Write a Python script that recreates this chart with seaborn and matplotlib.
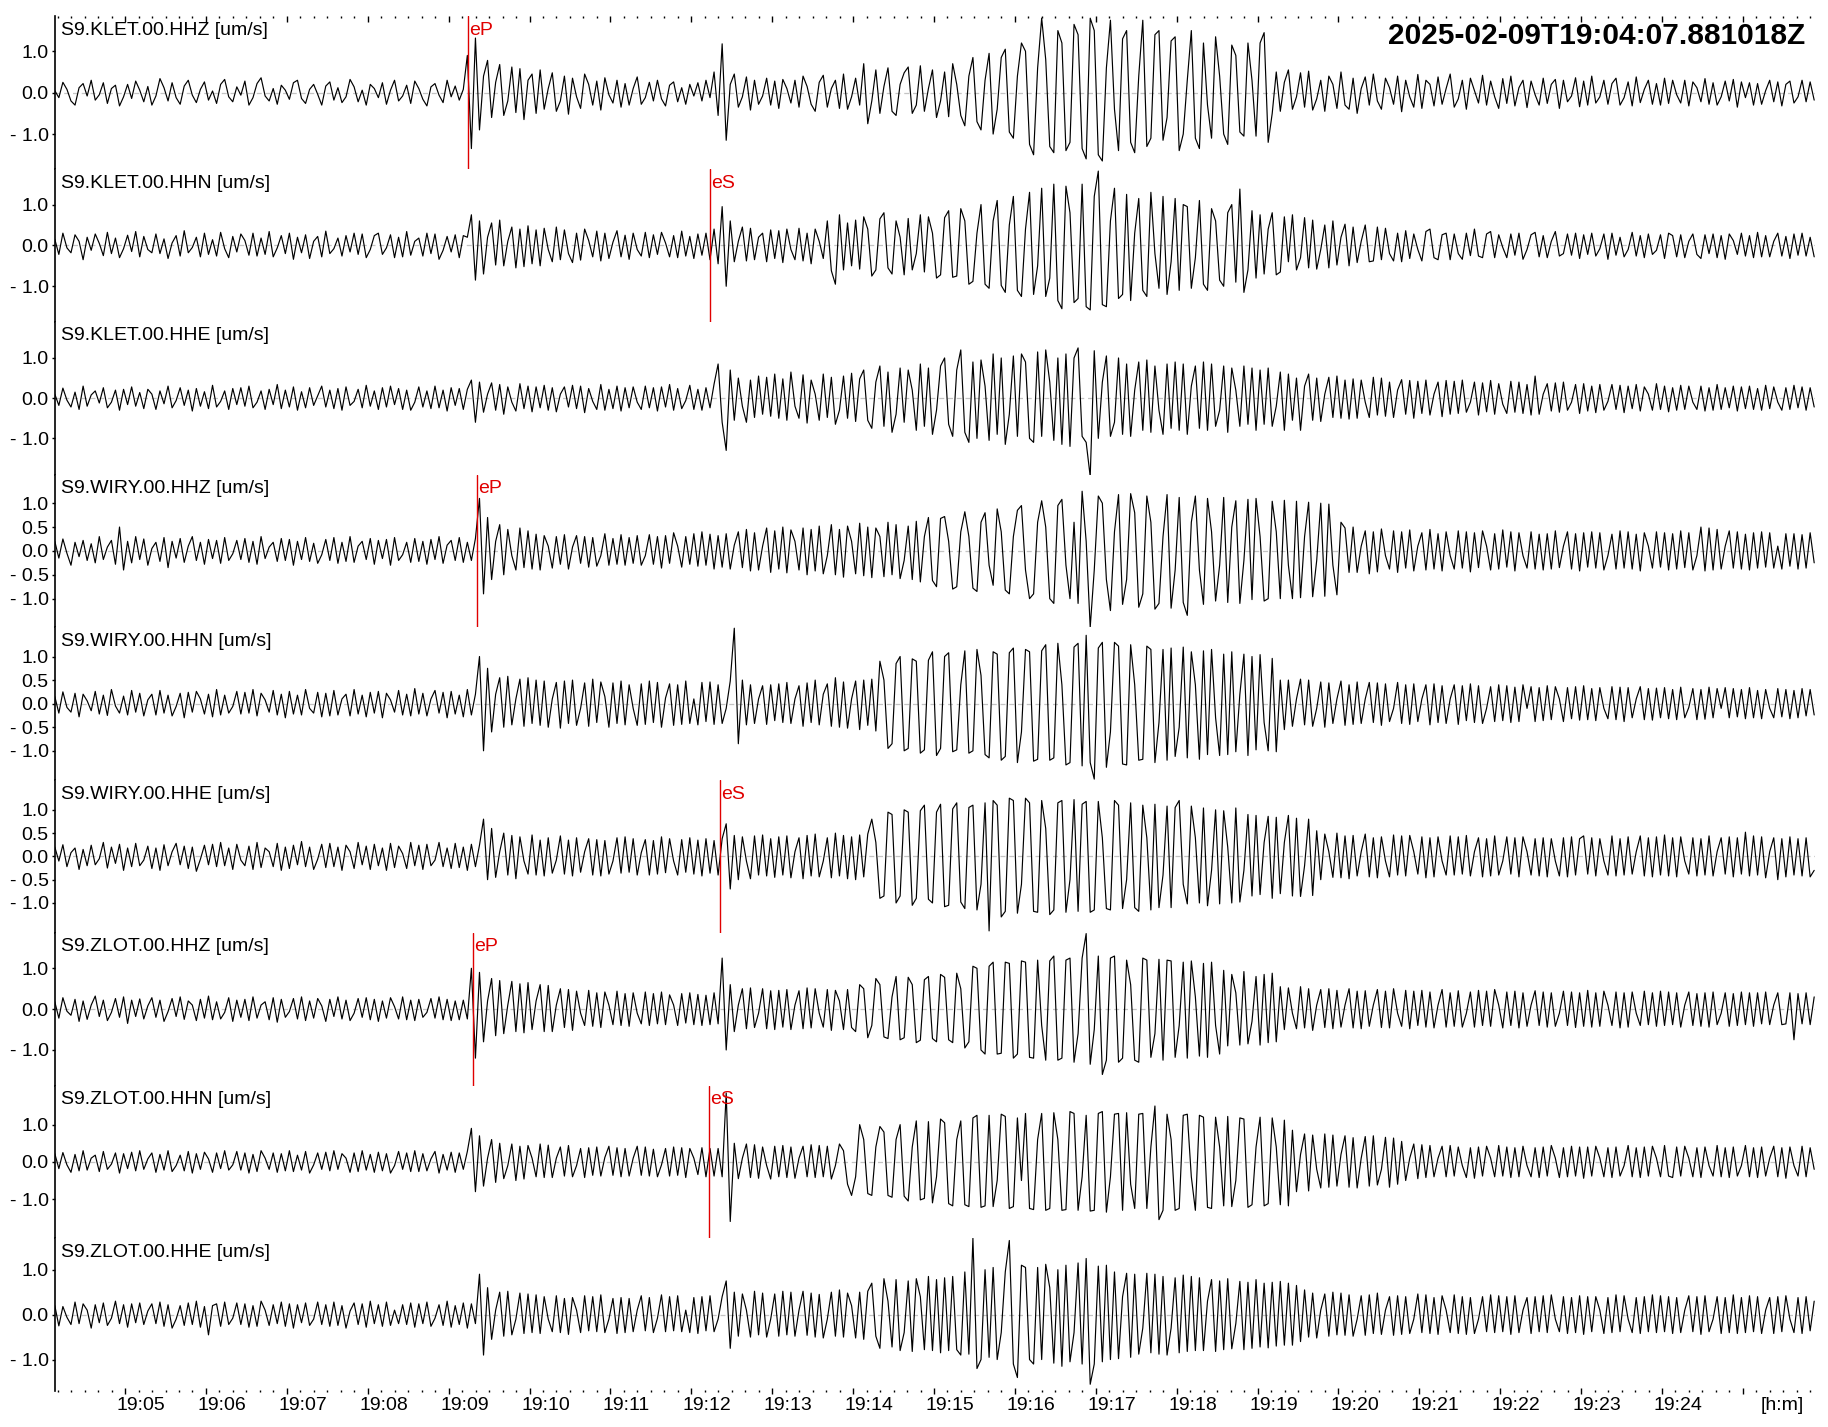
import numpy as np
import pandas as pd
import matplotlib
matplotlib.use("Agg")
import matplotlib.pyplot as plt
import matplotlib.transforms as mtransforms
from matplotlib.ticker import FixedLocator, NullLocator
import seaborn as sns

# ---------------- data ----------------
DT = 3.0            # seconds between samples
T_END = 1305.6      # seconds shown (start 19:04:07.881018)
FIRST_MINUTE = 52.12  # seconds from start to 19:05:00

TITLE = "2025-02-09T19:04:07.881018Z"
CHANNELS = ["S9.KLET.00.HHZ", "S9.KLET.00.HHN", "S9.KLET.00.HHE",
            "S9.WIRY.00.HHZ", "S9.WIRY.00.HHN", "S9.WIRY.00.HHE",
            "S9.ZLOT.00.HHZ", "S9.ZLOT.00.HHN", "S9.ZLOT.00.HHE"]
UNIT = "[um/s]"
Y_HALF = [1.845, 1.87, 1.90, 1.60, 1.62, 1.64, 1.87, 2.05, 1.70]
YT3 = [1.0, 0.0, -1.0]
YT5 = [1.0, 0.5, 0.0, -0.5, -1.0]
YL3 = ["1.0", "0.0", "- 1.0"]
YL5 = ["1.0", "0.5", "0.0", "- 0.5", "- 1.0"]
Y_TICKS = [YT3, YT3, YT3, YT5, YT5, YT5, YT3, YT3, YT3]
Y_TICKLABELS = [YL3, YL3, YL3, YL5, YL5, YL5, YL3, YL3, YL3]

PICK_CHANNEL = [0, 1, 3, 5, 6, 7]
PICK_PHASE = ["eP", "eS", "eP", "eS", "eP", "eS"]
PICK_TIME = [306.7, 485.9, 313.1, 493.4, 310.1, 485.4]

MINUTE_LABELS = ["19:05", "19:06", "19:07", "19:08", "19:09", "19:10", "19:11",
                 "19:12", "19:13", "19:14", "19:15", "19:16", "19:17", "19:18",
                 "19:19", "19:20", "19:21", "19:22", "19:23", "19:24", "[h:m]"]

# amplitudes in 0.01 um/s, one value every DT seconds (one row = one minute)
KLET_HHZ = [
    5,-12,25,8,-20,-30,12,22,-8,30,-18,-5,24,-26,10,18,-32,-10,20,-14,
    28,6,-22,15,-30,-8,34,12,-20,24,-12,-28,16,30,-6,-24,8,26,-18,4,
    -26,20,32,-10,-22,14,-6,28,-30,-12,22,36,-8,-20,10,-28,18,6,-16,24,
    30,-14,-26,8,20,-4,-30,16,26,-18,12,-24,-10,32,14,-22,6,-30,20,10,
    -12,24,-28,6,30,-20,-8,18,-26,28,10,-16,-32,14,22,-6,-24,30,-10,16,
    -18,8,90,-135,132,-90,40,78,-60,25,68,-55,-20,62,-48,58,-65,30,45,-50,
    55,-40,10,48,-45,-20,40,-52,35,-10,-38,45,20,-30,28,-42,36,-5,-25,30,
    -35,22,-30,10,38,-28,-12,25,-20,30,-15,-32,18,26,-22,12,-28,20,-8,24,
    -20,30,-12,50,-55,118,-115,20,45,-35,-10,38,-42,30,-28,-8,35,-30,28,-38,
    32,10,-25,30,-35,40,15,-28,-45,25,42,-35,10,30,-38,45,-40,-10,35,-30,
    70,-75,-20,55,-50,15,60,-45,-55,20,48,62,-50,-30,65,-45,10,55,-60,-20,
    50,-58,70,20,-55,-80,40,85,-70,-90,30,95,-100,-40,85,105,-95,-110,40,120,
    100,-125,-150,60,180,80,-130,-145,150,120,-140,-120,165,140,-135,-160,180,150,-150,-165,
    60,175,-40,-140,130,150,-120,-145,40,175,-130,-110,140,150,-115,-60,125,135,-140,-100,
    30,150,-110,-135,120,-30,-110,135,40,-100,-125,115,90,-95,-105,120,30,-105,120,145,
    -120,-50,50,-45,25,55,-40,-10,48,-35,52,-42,-15,30,-45,40,20,-38,50,-30,
    -40,35,-50,10,38,-30,45,-20,-40,35,12,-28,40,-46,30,-10,-35,44,-38,30,
    20,-32,38,-28,10,45,-35,-15,30,-40,35,5,-25,42,-30,28,-10,-38,34,-26,
    40,-32,12,30,-36,28,-5,-30,35,-26,20,32,-38,30,-22,-8,36,-34,28,-30,
    40,-25,-10,30,-28,22,35,-30,-12,26,-32,38,-24,8,30,-28,22,-30,35,-26,
    30,-5,-25,30,-32,26,12,-22,34,-28,24,-30,-10,28,-20,32,-35,26,-12,24,
    -30,22,-28,5,30,-22,26,-32,20,28,-25,-10,30,-22,26,-18,
]
KLET_HHN = [
    15,-22,30,-6,-18,26,10,-35,20,-12,28,5,-25,32,-20,18,-30,-8,25,-15,
    34,-28,22,-10,-18,28,-20,16,-32,6,24,-26,36,-18,-5,20,-28,30,-22,14,
    -26,32,-8,-30,22,-16,28,12,-24,30,-26,18,-22,34,-28,-6,24,-20,30,-34,
    20,-18,26,-32,10,22,-28,35,-20,-8,18,-26,24,-16,30,-22,28,-30,-10,24,
    30,-22,-6,26,-30,20,-28,34,-24,10,18,-26,30,-20,28,-34,-12,22,-16,26,
    -30,24,20,75,-85,60,-70,20,55,-48,62,-50,10,45,-55,40,-52,48,-45,38,
    -50,42,-10,-40,45,-35,38,-20,-42,30,-36,40,12,-28,35,-38,30,-32,8,36,
    -28,25,-34,30,-10,-26,32,-30,26,-22,32,6,-28,24,-30,35,-26,22,-32,28,
    -24,30,-35,40,-45,95,-100,60,-40,10,45,-38,42,-35,20,30,-40,38,-32,36,
    -42,40,-10,-35,42,-38,30,-45,40,10,-32,60,-62,-95,75,-60,55,-50,62,-58,
    70,40,-75,-60,65,80,-55,-70,60,20,-72,66,-60,-20,75,-65,70,30,-80,-72,
    68,85,-78,-75,90,60,-95,-88,30,100,-95,-105,60,110,-98,-115,50,120,-110,-125,
    40,130,-120,-50,140,-125,-80,150,-135,-155,145,80,-140,-130,150,-150,-158,120,182,-145,
    -150,60,140,-130,-120,125,-135,30,115,-110,-125,130,-20,-105,120,-120,-40,115,-110,100,
    95,-105,-30,110,-95,-110,90,60,-85,-100,80,100,-90,138,-115,-60,85,-80,75,-70,
    40,80,-72,-65,70,-40,75,-60,-30,68,-55,62,-58,-10,50,-55,60,-48,20,52,
    -50,45,-42,10,50,-40,-38,45,-35,42,-20,-38,30,-40,36,-32,28,-10,-38,34,
    40,-30,-35,26,30,-35,28,-20,-34,30,-25,40,-26,-30,28,34,-30,26,-5,-30,
    28,-24,30,-34,-10,26,32,-28,24,-30,10,34,-26,-20,28,-24,30,-32,26,-22,
    30,-26,-8,28,-34,30,-24,20,-28,-10,32,-26,24,-30,28,-22,-12,26,-32,30,
    24,-28,26,-30,10,28,-22,-32,26,-20,28,-30,24,-34,28,12,-22,30,-26,24,
    -30,32,-28,24,-28,10,30,-26,22,-32,28,-24,30,-26,20,-28,
]
KLET_HHE = [
    10,-18,25,-5,-22,15,-28,30,-20,8,18,-12,26,-24,-10,20,-30,22,-16,28,
    -20,14,-26,22,10,-28,18,-14,30,-24,-6,26,-18,20,-32,24,-20,16,-26,32,
    -22,-8,18,-28,24,-16,26,-20,30,-24,-10,18,-28,22,-16,34,-26,20,-22,28,
    -30,16,-24,26,-18,6,30,-22,20,-26,24,-30,28,-18,-8,22,-24,32,-20,18,
    -28,26,-22,30,-16,24,-28,20,-30,-10,28,-22,18,-26,30,-24,20,-32,26,-18,
    24,-28,22,45,-60,40,-35,10,38,-30,34,-40,28,-10,-32,36,-26,30,-34,28,
    -24,32,-30,26,-34,10,28,-22,32,-26,30,-36,24,-8,-28,34,-30,22,-26,30,
    -32,26,-24,28,-10,-28,30,-24,26,-32,28,-22,34,-30,24,-26,-6,32,-28,22,
    -30,26,-24,35,85,-60,-130,70,-55,50,-20,-60,45,-48,55,-40,52,-45,60,-50,
    48,-55,65,-20,-50,58,-62,45,10,-55,60,-48,52,-65,-30,55,-50,62,-58,48,
    70,-55,-75,40,80,-70,65,-85,-40,75,-60,70,20,-80,85,-70,75,-90,-30,80,
    100,-65,-95,70,120,-85,-110,90,-100,95,30,-105,110,-90,100,-115,-40,105,-95,110,
    90,-100,-110,115,-95,120,40,-105,100,-115,110,-120,100,125,-95,-110,-195,118,-100,40,
    105,-95,-60,100,-90,85,-95,20,90,-80,95,-85,80,-30,-90,85,-75,90,-80,85,
    -90,30,80,-75,90,-80,85,-70,-30,80,-85,75,20,-70,80,-65,75,-80,70,-65,
    75,-70,-20,65,-80,60,-55,50,-80,30,60,-55,50,-58,10,52,-48,55,-50,45,
    -52,48,-50,45,-10,-48,52,-42,50,-45,40,-48,20,46,-40,44,-50,42,-38,45,
    -42,10,40,-46,44,-40,42,-38,45,-35,-10,40,-42,38,-34,44,-40,36,-15,-38,
    42,-35,40,-38,34,-42,55,-40,10,36,-32,38,-35,40,-30,-10,34,-38,36,-32,
    30,-36,34,-30,-8,34,-28,32,-36,30,-26,34,-32,28,10,-30,36,-28,30,-34,
    26,-30,32,-28,30,-10,-28,30,-32,26,-30,34,-28,26,-24,30,-32,28,-26,30,
    -28,24,-30,32,-26,28,-10,-30,26,-28,32,-24,28,-30,26,-22,
]
WIRY_HHZ = [
    20,-15,25,-5,-30,18,-12,22,-20,15,-25,30,-18,8,22,-28,50,-40,20,-25,
    30,-18,25,-30,5,18,-22,28,-35,20,-15,26,-24,10,30,-20,18,-28,24,-16,
    22,-26,28,-20,-6,22,-18,26,-24,20,-28,30,-16,8,18,-22,26,-20,24,-30,
    20,-18,28,-22,16,-26,-8,24,-20,28,-26,18,-22,30,-24,10,20,-18,26,-28,
    22,-16,24,-30,28,-20,-8,18,-24,26,-22,20,-28,24,-18,30,-26,12,22,-20,
    28,-24,18,-20,26,110,-90,70,-60,20,55,-50,45,-10,-40,48,-35,42,-38,35,
    -40,32,10,-36,30,-28,34,-38,8,32,-26,30,-34,28,-32,-10,36,-30,26,-28,
    34,-30,28,-26,32,-30,-10,34,-28,30,-36,32,-26,38,10,-34,30,-28,36,-32,
    40,-30,35,-38,32,-34,36,-38,12,40,-35,45,-42,38,-40,10,48,-45,42,-38,
    50,-46,44,20,-40,48,-50,45,-42,52,-48,-10,55,-50,45,-55,52,20,-48,58,
    -52,50,-56,48,30,-54,60,-50,55,-58,-20,52,-60,62,-65,30,70,-62,-75,68,
    72,20,-80,-75,40,82,30,-78,-85,60,80,-30,-72,88,40,-82,-90,30,85,95,
    -40,-100,-90,60,105,50,-100,-110,95,108,-30,-100,60,-110,125,20,-160,-40,115,100,
    -60,-125,40,118,-112,-60,120,80,-118,-90,115,60,-122,-110,30,118,-120,-40,112,-108,
    -135,60,115,-40,-112,110,40,-105,-30,112,-108,50,105,-110,-20,108,-102,110,30,-105,
    -100,104,40,-100,106,-30,-100,104,-98,30,102,-96,-20,100,-95,98,-30,-92,60,48,
    -45,50,-45,10,42,-48,40,-44,46,-10,-38,42,-45,40,-36,44,-42,10,38,-40,
    45,-38,36,-42,40,-10,-38,42,-36,40,-44,38,-35,42,10,-40,36,-38,44,-34,
    40,-42,38,-10,-36,40,-38,35,-40,36,-38,42,-35,10,40,-38,36,-42,38,-34,
    40,-36,38,-40,-10,35,-38,42,-36,40,-38,35,-42,38,10,-36,40,-34,38,-40,
    36,-38,42,-35,38,-40,-10,50,-42,48,-40,45,-38,10,42,-36,40,-38,35,-40,
    38,-36,40,-34,38,-36,10,-38,36,-32,36,-38,34,-36,38,-25,
]
WIRY_HHN = [
    15,-20,25,-8,-18,22,-28,20,6,-15,26,-22,18,-25,30,-5,-20,16,-24,28,
    -18,22,-26,8,20,-24,28,-20,18,-26,-6,22,-30,24,-18,26,10,-22,20,-28,
    30,-24,18,-20,-6,26,-22,24,-20,30,-26,22,8,-18,28,-24,20,-30,26,-22,
    18,-24,30,-10,-20,24,-28,22,-26,28,-24,10,20,-26,30,-22,18,-28,24,-20,
    26,-30,22,8,-18,28,-24,20,-26,32,-22,22,-26,10,28,-20,24,-30,26,-22,
    18,-28,30,-24,20,100,-100,75,-60,20,55,-50,58,-45,10,52,-48,55,-42,50,
    -46,48,-50,10,45,-52,48,-42,50,-46,-10,44,-48,52,-40,46,15,-50,44,-42,
    48,-45,40,-10,-46,42,-44,48,-40,45,-50,12,42,-46,40,-44,48,-42,10,-45,
    45,-38,46,-44,40,-42,-10,48,160,-85,50,-45,40,-42,10,38,-44,40,-36,42,
    -40,45,-42,10,38,-48,44,-40,50,-45,20,42,-48,55,-50,46,-52,10,48,-55,
    50,-46,52,-58,90,50,-95,-85,85,100,-100,-95,95,90,-105,-98,92,110,-110,-95,
    100,108,-102,-98,40,112,-105,-100,115,60,-108,-115,110,105,-120,-112,108,118,-125,-60,
    115,110,-122,-118,112,125,-120,-115,128,40,-130,-125,120,128,-132,145,-125,-160,118,130,
    -135,-60,130,122,-128,-130,125,40,-120,-118,122,115,-125,-40,115,-120,118,-112,-50,120,
    -115,110,40,-118,112,-108,115,-30,-110,105,-108,110,-102,20,105,-110,100,-98,104,-40,
    -100,96,-102,50,-55,50,-48,10,52,-45,50,-48,-10,46,-50,44,-42,10,48,-46,
    40,-44,46,-42,10,45,-40,44,-46,42,-38,-10,45,-42,40,-44,42,-38,10,40,
    -45,42,-40,38,-42,10,40,-44,38,-36,42,-40,38,-42,-10,36,-38,40,-36,38,
    -40,35,-38,40,-10,36,-38,34,-36,38,-34,36,10,-38,34,-32,36,-35,38,-34,
    32,-36,34,-10,-32,36,-34,35,-38,34,-30,10,36,-34,32,-35,33,-30,34,-32,
    30,-34,35,-30,-8,32,-34,30,-33,35,-30,32,-10,34,-30,32,-28,30,-32,34,
    -30,28,-32,30,-10,-30,32,-28,30,-32,28,-30,32,-26,30,-24,
]
WIRY_HHE = [
    20,-10,25,-22,8,18,-28,15,-20,24,-18,-5,30,-25,20,-15,26,-30,18,-22,
    28,-20,-8,22,-26,18,-30,25,-20,10,28,-18,22,-26,20,-32,-6,24,-18,26,
    -22,30,-20,18,-28,26,-8,-20,22,-28,30,-24,18,10,-22,28,-30,20,-26,24,
    -18,32,-22,20,-28,-6,26,-24,28,-22,20,-30,24,10,-26,30,-18,22,-28,26,
    -20,18,-30,28,-24,22,6,-26,30,-20,24,-28,26,-20,-8,30,-22,18,-26,28,
    -24,20,-30,26,-22,24,80,-50,60,-45,10,50,-40,45,-48,42,-10,-38,46,-40,
    35,-42,40,-36,-8,44,-38,35,-42,40,-34,10,38,-40,36,-42,34,-38,-10,40,
    -36,42,-34,38,-40,8,36,-40,34,-38,42,-35,38,-10,-40,36,-34,40,-38,35,
    -42,38,-36,34,-40,38,70,-70,45,-50,42,-10,-48,44,-40,46,-42,38,-45,42,
    -40,44,-46,10,40,-48,45,-42,48,-44,-10,40,-46,50,-42,45,-48,42,-50,46,
    -44,48,80,30,-90,-85,95,90,-100,-85,100,95,-105,-90,98,110,-92,-100,95,112,
    -108,-105,102,115,-98,-112,105,110,-115,-60,115,-160,120,110,-130,-118,125,120,-122,-60,
    125,115,-118,-120,120,60,-125,-115,115,120,-120,-50,122,-118,112,118,-120,-115,118,40,
    -112,-115,120,110,-112,-50,115,-110,-118,110,40,-115,112,-110,-40,108,-110,105,120,-60,
    -102,108,40,-100,104,-106,-30,100,-102,98,20,-100,104,-98,-30,90,-85,88,-82,30,
    86,-90,84,-80,30,88,-85,82,-86,-20,80,-84,55,-50,48,10,-45,50,-46,44,
    -48,45,-42,10,48,-44,40,-46,42,-10,-44,46,-40,44,-42,45,10,-38,42,-46,
    40,-44,42,-10,-40,44,-40,42,-38,45,-42,10,40,-44,38,-42,44,-40,-10,42,
    -38,40,-44,42,10,-40,38,-42,40,-44,38,-10,-42,40,-44,42,-40,38,44,-38,
    40,-42,38,-10,-40,44,-42,38,-40,42,-38,10,44,-42,40,-44,42,-40,46,-42,
    40,-44,42,-10,-38,40,-42,38,-40,44,-42,10,40,-38,42,-44,40,-38,52,-42,
    44,-40,42,-46,10,40,-50,38,-44,42,-40,38,-42,40,-44,-30,
]
ZLOT_HHZ = [
    18,-22,28,-5,-15,24,-30,20,-25,10,32,-18,22,-28,-8,26,-20,30,-35,22,
    -18,25,-24,8,28,-20,22,-30,-6,26,-18,30,-25,20,10,-28,24,-22,32,-26,
    18,-24,-8,28,-30,22,-20,24,-28,30,-22,10,18,-26,28,-32,24,-20,-6,26,
    -24,30,-28,20,-22,26,8,-30,24,-18,30,-24,22,-28,-10,26,-20,28,-26,24,
    -30,20,-22,28,6,-24,30,-26,22,-28,24,-20,-8,26,-22,30,-26,24,-28,20,
    -26,22,-24,100,-120,90,-80,20,75,-65,70,-60,10,68,-55,62,-58,65,-50,20,
    60,-55,58,-55,10,50,-45,48,-52,44,-10,-40,46,-42,40,-45,42,10,-38,44,
    -40,38,-42,40,-10,-36,42,-40,38,-36,42,-38,35,10,-40,38,-34,40,-38,36,
    -40,34,-38,40,-36,125,-100,60,-55,10,50,-48,52,-45,-10,50,-48,45,-50,46,
    -44,48,-50,10,45,-48,52,-46,50,-10,-44,48,-52,46,20,-50,48,-45,-55,60,
    50,-70,-40,75,60,-68,-72,30,80,-75,-70,78,60,-82,-76,72,80,-72,-80,85,
    78,-75,-82,88,50,-95,-80,105,100,-100,-110,105,115,-110,-108,115,112,-120,-110,118,
    115,-118,-120,120,-40,-125,118,130,-125,-120,120,125,-130,-60,125,185,-135,-50,130,-160,
    -125,125,130,-130,-120,120,60,-125,-130,125,120,-118,-60,122,-125,120,118,-118,-40,115,
    -120,118,30,-115,112,-118,115,-40,-110,95,-90,85,40,-88,92,-85,-30,80,-88,85,
    -82,88,-80,55,-50,52,-10,-48,55,-46,50,-52,10,48,-45,50,-48,46,-44,10,
    50,-46,44,-48,45,-42,10,48,-45,44,-46,50,-10,-42,46,-48,44,-40,46,-44,
    42,-46,10,48,-44,40,-42,45,-44,-10,42,-44,46,-40,44,-42,48,10,-46,42,
    -40,44,-46,40,-42,10,45,-40,42,-44,40,-42,-10,44,-40,42,-45,40,-42,46,
    -44,40,-42,44,10,-40,42,-46,40,-44,42,-10,-40,44,-38,40,-42,44,-40,42,
    -38,40,-44,10,42,-40,38,-42,40,-44,42,-38,-10,40,-42,38,-40,42,-38,40,
    -42,40,-36,42,-38,10,40,-38,-36,40,-75,38,-36,40,-38,30,
]
ZLOT_HHN = [
    22,-18,25,-8,-28,20,-24,30,-22,10,18,-26,28,-20,-6,24,-30,22,-18,26,
    -24,30,-20,8,24,-28,20,-22,30,-26,-10,18,-24,28,-30,22,-20,26,8,-28,
    24,-18,30,-22,-8,28,-22,24,-30,20,-26,30,10,-20,24,-28,22,-24,30,-26,
    18,-22,28,-30,-8,24,-20,26,-24,30,-20,22,10,-28,24,-26,30,-22,20,-28,
    26,-24,22,-30,-10,28,-20,24,-26,30,-26,22,-24,8,28,-30,20,-22,26,-28,
    24,-20,28,90,-80,70,-65,10,60,-55,50,-45,-10,48,-50,42,-46,44,10,-40,
    48,-42,45,-42,10,40,-38,44,-40,-10,36,-42,38,-36,40,-38,12,42,-36,38,
    -40,36,-38,10,42,-36,40,-38,34,-40,-8,36,-38,40,-36,38,-42,36,10,-34,
    38,-40,36,-38,36,-40,185,-160,50,-45,10,48,-42,46,-44,40,-10,-46,42,-40,
    44,-42,40,-44,10,42,-40,46,-42,44,-40,42,-46,-10,48,30,-60,-90,-40,100,
    60,-85,-90,40,95,80,-90,-95,60,100,-92,-105,40,110,-102,-98,108,-110,-40,115,
    105,-112,-118,60,110,-115,-120,118,125,-122,-118,125,-120,-50,128,122,-125,-120,118,-50,
    130,-125,-128,60,130,-130,-125,132,60,-130,-128,135,130,-130,-40,125,-132,-130,130,135,
    -135,-40,128,130,-130,132,-60,-125,128,130,-125,40,150,-155,-130,128,60,-130,-125,125,
    128,-40,-130,125,120,-122,-125,120,40,-118,122,-120,-50,118,115,-122,-115,40,120,-118,
    -112,118,40,-115,112,-118,85,-80,20,75,-78,72,-20,-70,75,-68,72,-65,20,70,
    -68,65,-70,10,68,-65,70,-62,-20,66,-68,64,-60,55,-50,10,48,-45,46,-42,
    44,-40,10,42,-40,44,-38,40,-10,-42,38,-44,40,-38,42,10,-40,44,-38,40,
    -42,38,-40,42,-10,-40,38,-42,40,-38,44,10,-42,38,-40,42,-38,40,-44,40,
    -38,42,10,-40,38,-42,40,-38,-10,44,-40,38,-42,40,-38,42,10,-40,44,-38,
    -42,40,-38,42,10,-40,38,-42,40,-10,-38,44,-40,38,-42,40,-38,-10,44,-40,
    38,-42,40,-38,10,42,-40,38,-44,40,-10,-38,42,-40,38,-20,
]
ZLOT_HHE = [
    20,-25,18,-6,-22,28,-20,24,10,-30,22,-18,26,-24,-8,30,-20,22,-28,24,
    -18,26,-22,8,24,-20,28,-26,22,-30,-10,20,-24,26,-22,30,-28,18,-45,20,
    24,-26,28,-22,-8,26,-22,24,-28,20,-26,30,10,-24,22,-20,28,-26,24,-30,
    22,-18,26,-24,-10,28,-22,22,-26,28,-24,20,-30,8,26,-22,24,-28,30,-20,
    22,-26,28,-24,10,-20,22,-22,26,-28,24,-20,28,-26,-8,22,-24,30,-28,20,
    -22,26,-30,24,-20,90,-90,60,-55,10,50,-48,52,-45,-10,48,-42,46,-40,44,
    -42,40,-10,-38,42,-40,36,-44,38,10,-40,42,-36,40,-38,44,-40,-10,36,-42,
    38,-40,36,-38,10,42,-36,38,-40,-8,44,-38,40,-36,42,-38,10,-40,38,-42,
    40,-36,42,-38,-10,40,75,-75,50,-48,46,10,-50,52,-45,48,-50,-10,46,-48,
    52,-45,50,-48,10,52,-46,48,-50,45,-52,-10,50,-48,55,-50,48,20,-52,50,
    -55,52,70,-48,-75,80,30,-72,78,-80,-40,75,-82,80,40,-78,85,-80,78,-85,
    82,-80,85,-78,-90,95,-88,170,-120,-100,100,-95,105,-100,-40,95,165,-110,-140,110,
    105,-100,-110,105,-100,112,60,-108,100,-115,110,-105,-40,115,-110,125,-155,-110,108,-105,
    110,-100,95,-98,40,92,-95,90,-88,-30,92,-85,90,-88,85,-90,-30,82,-85,88,
    -82,85,-80,82,-80,30,78,-82,75,-78,80,-76,-20,74,-78,72,-75,78,-72,70,
    -74,72,-70,74,-68,70,-68,65,-60,55,-50,48,-52,10,46,-48,50,-45,48,-46,
    44,-48,-10,42,-46,44,-42,48,-44,10,40,-46,42,-44,40,-42,-10,46,-40,44,
    -42,38,-44,42,10,-40,44,-42,40,-44,38,-42,-10,40,-38,44,-40,42,-38,40,
    -44,42,-40,10,38,-42,40,-38,42,-40,44,-10,-38,40,-42,38,-40,42,-44,40,
    -38,40,10,-42,38,-40,44,-38,42,-10,-40,38,-42,40,-38,44,-40,42,-38,40,
    -42,38,-40,10,42,-38,40,-44,42,-38,-10,40,-42,38,-40,44,-42,38,-40,42,
    -38,40,-42,10,38,-42,40,-38,42,-10,-40,38,-42,40,-36,30,
]
TRACES = [KLET_HHZ, KLET_HHN, KLET_HHE, WIRY_HHZ, WIRY_HHN, WIRY_HHE,
          ZLOT_HHZ, ZLOT_HHN, ZLOT_HHE]

# ---------------- style ----------------
sns.set_theme(style="white")
plt.rcParams["font.family"] = ["Liberation Sans", "DejaVu Sans"]
plt.rcParams["axes.linewidth"] = 1.0

W, H = 1828, 1427
fig = plt.figure(figsize=(W / 100, H / 100), dpi=100)
gs = fig.add_gridspec(len(CHANNELS), 1, left=54.8 / W, right=1815 / W,
                      top=1 - 16.3 / H, bottom=1 - 1391 / H, hspace=0)

major_x = [FIRST_MINUTE + 60 * k for k in range(len(MINUTE_LABELS))]
minor_x = list(np.arange(FIRST_MINUTE - 50, T_END, 10.0))
PICK_RED = "#e00000"

axes = []
for i, (name, vals) in enumerate(zip(CHANNELS, TRACES)):
    ax = fig.add_subplot(gs[i])
    axes.append(ax)
    df = pd.DataFrame({"t": np.arange(len(vals)) * DT,
                       "v": np.asarray(vals, dtype=float) / 100.0})
    ax.axhline(0, color="#c4c4c4", lw=0.9, ls=(0, (4, 3)), zorder=1)
    sns.lineplot(data=df, x="t", y="v", ax=ax, color="black", lw=0.85,
                 estimator=None, sort=False, legend=False, zorder=3)
    ax.set_xlim(0, T_END)
    ax.set_ylim(-Y_HALF[i], Y_HALF[i])
    ax.set_xlabel("")
    ax.set_ylabel("")
    for s in ("top", "right", "bottom"):
        ax.spines[s].set_visible(False)
    ax.spines["left"].set_color("black")
    ax.spines["left"].set_linewidth(1.2)
    ax.set_facecolor("white")

    ax.set_yticks(Y_TICKS[i])
    ax.set_yticklabels(Y_TICKLABELS[i])
    ax.tick_params(axis="y", direction="out", length=2.5, width=1.0,
                   colors="black", labelsize=14, pad=2, left=True)

    ax.annotate(f"{name} {UNIT}", xy=(0, 1), xycoords="axes fraction",
                xytext=(6, -18.5), textcoords="offset pixels",
                ha="left", va="baseline", fontsize=14, color="black")

    if i == 0:
        ax.xaxis.set_ticks_position("top")
        ax.xaxis.set_major_locator(FixedLocator(major_x))
        ax.xaxis.set_minor_locator(FixedLocator(minor_x))
        ax.tick_params(axis="x", which="major", direction="in", length=4,
                       width=1, colors="black", labeltop=False, labelbottom=False)
        ax.tick_params(axis="x", which="minor", direction="in", length=1.5,
                       width=1, colors="black")
    elif i == len(CHANNELS) - 1:
        ax.xaxis.set_ticks_position("bottom")
        ax.xaxis.set_major_locator(FixedLocator(major_x))
        ax.xaxis.set_minor_locator(FixedLocator(minor_x))
        ax.set_xticklabels(MINUTE_LABELS)
        ax.tick_params(axis="x", which="major", direction="inout", length=5,
                       width=1, colors="black", labelsize=14, pad=2)
        ax.tick_params(axis="x", which="minor", direction="inout", length=1.5,
                       width=1, colors="black")
    else:
        ax.xaxis.set_major_locator(NullLocator())
        ax.xaxis.set_minor_locator(NullLocator())

# picks
for ch, ph, tp in zip(PICK_CHANNEL, PICK_PHASE, PICK_TIME):
    ax = axes[ch]
    ax.axvline(tp, color=PICK_RED, lw=1.0, zorder=4)
    ax.annotate(ph, xy=(tp, 1), xycoords=("data", "axes fraction"),
                xytext=(1, -18.5), textcoords="offset pixels",
                ha="left", va="baseline", fontsize=14, color=PICK_RED, zorder=5)

# shift the time labels to the right of their ticks
bottom_ax = axes[-1]
labels = bottom_ax.get_xticklabels()
for j, lab in enumerate(labels):
    dx = 16 if j < len(labels) - 1 else 39
    lab.set_transform(lab.get_transform() +
                      mtransforms.ScaledTranslation(dx / 100, 0, fig.dpi_scale_trans))

fig.text(1805 / W, 1 - 44.3 / H, TITLE, ha="right", va="baseline",
         fontsize=21.5, fontweight="bold", color="black")

fig.savefig("out.png", dpi=100, facecolor="white")
